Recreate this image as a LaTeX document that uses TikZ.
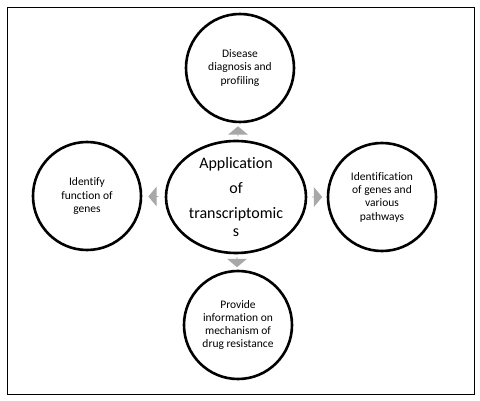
\documentclass[tikz,border=0pt]{standalone}
\usepackage{fontspec}
\setmainfont{Carlito}[Ligatures=CommonOff]
\usepackage{tikz}
\usetikzlibrary{positioning,shapes.geometric,shapes.arrows,calc}
\definecolor{arrowgray}{RGB}{168,168,168}
\tikzset{
  topic/.style={circle,draw=black,line width=2.6pt,align=center,minimum size=108pt,inner sep=0pt,font=\fontsize{11.5}{13.3}\selectfont},
  hub/.style={ellipse,draw=black,line width=2.6pt,align=center,minimum width=140pt,minimum height=112pt,inner sep=-10pt,font=\fontsize{16}{20}\selectfont},
  pointer/.style={single arrow,fill=arrowgray,draw=none,minimum height=10pt,minimum width=20pt,single arrow head extend=4pt,single arrow tip angle=100,inner sep=0pt}
}

\begin{document}
\begin{tikzpicture}[x=1pt,y=-1pt]
  \useasboundingbox (0,0) rectangle (480,401);
  \draw[line width=0.8pt] (7,7) rectangle (474,394);

  \node[hub] (C) at (236,197) {Application\\[5pt]of\\[5pt]transcriptomic\\[-2pt]s};
  \node[topic] (T) at (240,68) {Disease\\diagnosis and\\profiling};
  \node[topic] (L) at (87,196) {Identify\\function of\\genes};
  \node[topic] (R) at (382,197) {Identification\\of genes and\\various\\pathways};
  \node[topic] (B) at (238,325) {Provide\\information on\\mechanism of\\drug resistance};

  \node[pointer,rotate=90] (pT) at ($(C.north)!0.5!(T.south)$) {};
  \node[pointer,rotate=180] (pL) at ($(C.west)!0.5!(L.east)$) {};
  \node[pointer] (pR) at ($(C.east)!0.5!(R.west)$) {};
  \node[pointer,rotate=-90] (pB) at ($(C.south)!0.5!(B.north)$) {};
\end{tikzpicture}
\end{document}
